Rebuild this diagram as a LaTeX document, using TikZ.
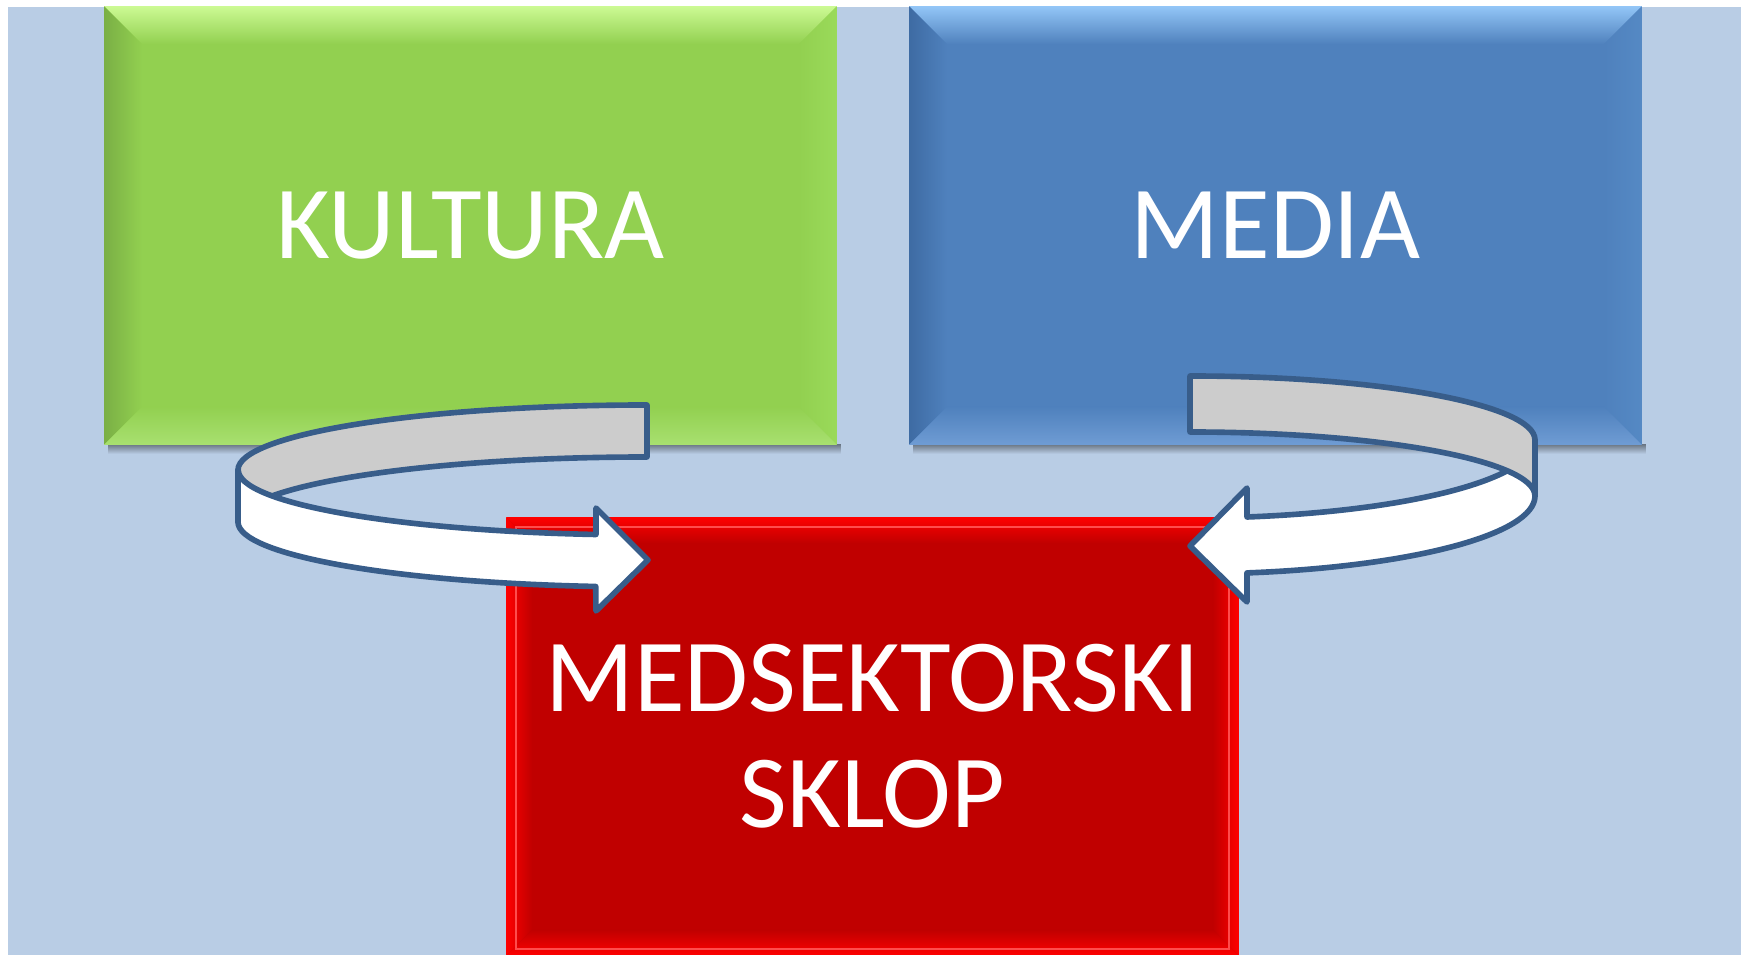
\documentclass[tikz,border=0pt]{standalone}
\usepackage{fontspec}
\setmainfont{Carlito}
\usetikzlibrary{calc}

\definecolor{bgblue}{HTML}{B9CDE5}
\definecolor{kgreen}{HTML}{92D050}
\definecolor{kgreentop}{HTML}{CCFA94}
\definecolor{kgreenleft}{HTML}{7AAF45}
\definecolor{kgreenright}{HTML}{9ADA5A}
\definecolor{kgreenbot}{HTML}{A8E070}
\definecolor{mblue}{HTML}{4F81BD}
\definecolor{mbluetop}{HTML}{93C6F7}
\definecolor{mblueleft}{HTML}{3E6BA3}
\definecolor{mblueright}{HTML}{5589C4}
\definecolor{mbluebot}{HTML}{6F9CD4}
\definecolor{sred}{HTML}{C00000}
\definecolor{sredlight}{HTML}{FF0000}
\definecolor{ribbonline}{HTML}{385D8A}
\definecolor{ribbonback}{HTML}{CCCCCC}

\begin{document}
\begin{tikzpicture}[x=0.01cm, y=-0.01cm,
    sector/.style={minimum width=7.31cm, minimum height=4.37cm, inner sep=0pt,
      text=white, align=center, font=\fontsize{29.5}{33}\selectfont},
    ribbon/.style={draw=ribbonline, line width=1.6pt, line join=round}]
  \useasboundingbox (0,0) rectangle (1741,955);
  \fill[bgblue] (8,7) rectangle (1741,955);

  % sectors
  \node[sector, fill=kgreen] (kultura) at (470.5,225.5) {KULTURA};
  \node[sector, fill=mblue] (media) at (1275.5,225.5) {MEDIA};
  \node[sector, fill=sred] (sklop) at (872.5,736.5) {MEDSEKTORSKI\\SKLOP};

  % shadows under the top sectors
  \foreach \n in {kultura,media} {
    \shade[top color=black!40!bgblue, bottom color=bgblue]
      ($(\n.south west)+(4,0)$) rectangle ($(\n.south east)+(4,9)$);
  }

  % bevel edges
  \foreach \n/\bw/\base/\ctop/\cleft/\cright/\cbot in {
      kultura/38/kgreen/kgreentop/kgreenleft/kgreenright/kgreenbot,
      media/38/mblue/mbluetop/mblueleft/mblueright/mbluebot,
      sklop/26/sred/sredlight/sredlight/sredlight/sredlight} {
    \shade[top color=\ctop, bottom color=\base] (\n.north west) -- (\n.north east)
      -- ($(\n.north east)+(-\bw,\bw)$) -- ($(\n.north west)+(\bw,\bw)$) -- cycle;
    \shade[left color=\cleft, right color=\base] (\n.north west) -- ($(\n.north west)+(\bw,\bw)$)
      -- ($(\n.south west)+(\bw,-\bw)$) -- (\n.south west) -- cycle;
    \shade[left color=\base, right color=\cright] (\n.north east) -- ($(\n.north east)+(-\bw,\bw)$)
      -- ($(\n.south east)+(-\bw,-\bw)$) -- (\n.south east) -- cycle;
    \shade[top color=\base, bottom color=\cbot] (\n.south west) -- ($(\n.south west)+(\bw,-\bw)$)
      -- ($(\n.south east)+(-\bw,-\bw)$) -- (\n.south east) -- cycle;
  }
  \draw[sredlight!70!white, line width=0.5pt]
    ($(sklop.north west)+(10,10)$) rectangle ($(sklop.south east)+(-10,-7)$);

  % left ribbon: inner back face, then front face with head
  \filldraw[ribbon, fill=ribbonback] (647,405)
    arc[start angle=270, end angle=180, x radius=409, y radius=65] -- (238,522)
    arc[start angle=180, end angle=270, x radius=409, y radius=65] -- cycle;
  \filldraw[ribbon, fill=white] (238,470) -- (238,522)
    arc[start angle=180, end angle=97.2, x radius=409, y radius=65]
    -- (596,611) -- (648,560) -- (596,508) -- (596,534.5)
    arc[start angle=97.2, end angle=180, x radius=409, y radius=65] -- cycle;

  % right ribbon: front face with head, then inner back face
  \filldraw[ribbon, fill=white] (1535,440) -- (1535,496)
    arc[start angle=0, end angle=80.5, x radius=345, y radius=78]
    -- (1247,602) -- (1190,546) -- (1247,488) -- (1247,517)
    arc[start angle=80.5, end angle=0, x radius=345, y radius=78] -- cycle;
  \filldraw[ribbon, fill=ribbonback] (1190,376)
    arc[start angle=270, end angle=360, x radius=345, y radius=64] -- (1535,496)
    arc[start angle=0, end angle=-90, x radius=345, y radius=64] -- cycle;
\end{tikzpicture}
\end{document}
